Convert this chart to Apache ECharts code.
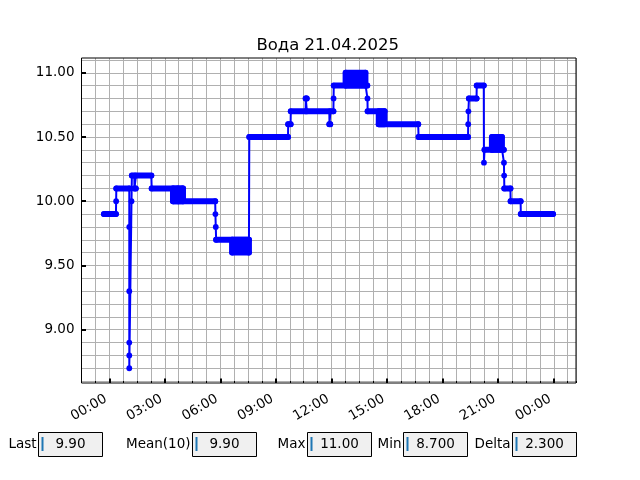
<!DOCTYPE html>
<html>
<head>
<meta charset="utf-8">
<script src="https://cdn.jsdelivr.net/npm/echarts@6/dist/echarts.min.js"></script>
<style>
  html, body { margin: 0; padding: 0; background: #fff; }
  #chart { width: 640px; height: 480px; }
</style>
</head>
<body>
<div id="chart"></div>
<script>
// данные (время в часах от 00:00)
const chartTitle = 'Вода 21.04.2025';

// полки: начало, конец, нижнее и верхнее значение (где значение "дрожит" - полоса)
const stepStart = [-0.29, 0.38, 1.22, 1.36, 1.44, 2.29, 3.44, 3.45, 5.77, 6.63, 7.56, 9.66, 9.8, 11.88, 10.6, 12.12, 12.76, 13.95, 14.55, 14.55, 16.7, 19.42, 19.84, 20.26, 20.66, 21.33, 21.67, 22.22];
const stepEnd = [0.36, 1.08, 1.35, 1.43, 2.27, 3.98, 3.98, 5.72, 7.54, 7.54, 9.65, 9.79, 12.1, 11.93, 10.66, 13.93, 13.83, 14.86, 14.86, 16.68, 19.37, 19.83, 20.22, 21.3, 21.2, 21.66, 22.21, 23.96];
const stepLow = [9.9, 10.1, 10.2, 10.1, 10.2, 10.1, 10.0, 10.0, 9.7, 9.6, 10.5, 10.6, 10.7, 10.6, 10.8, 10.9, 10.9, 10.7, 10.6, 10.6, 10.5, 10.8, 10.9, 10.4, 10.4, 10.1, 10.0, 9.9];
const stepHigh = [9.9, 10.1, 10.2, 10.1, 10.2, 10.1, 10.1, 10.0, 9.7, 9.7, 10.5, 10.6, 10.7, 10.6, 10.8, 10.9, 11.0, 10.7, 10.7, 10.6, 10.5, 10.8, 10.9, 10.4, 10.5, 10.1, 10.0, 9.9];

// точки линии по порядку
const pointHour = [-0.29, 0.36, 0.37, 0.38, 1.08, 1.08, 1.08, 1.08, 1.08, 1.08, 1.2, 1.22, 1.35, 1.36, 1.43, 1.44, 2.27, 2.29, 3.44, 3.45, 3.7, 3.72, 3.96, 3.98, 5.72, 5.73, 5.75, 5.77, 6.63, 6.64, 7.54, 7.56, 9.65, 9.66, 9.79, 9.8, 10.6, 10.61, 10.66, 10.67, 11.88, 11.89, 11.93, 11.94, 12.1, 12.11, 12.12, 12.76, 12.77, 13.83, 13.84, 13.93, 13.94, 13.95, 14.55, 14.56, 14.86, 14.87, 16.68, 16.7, 19.37, 19.38, 19.39, 19.42, 19.83, 19.84, 20.22, 20.23, 20.26, 20.66, 20.67, 21.2, 21.21, 21.3, 21.31, 21.32, 21.33, 21.66, 21.67, 22.21, 22.22, 23.96];
const pointValue = [9.9, 9.9, 10.0, 10.1, 10.1, 9.8, 9.3, 8.9, 8.8, 8.7, 10.0, 10.2, 10.2, 10.1, 10.1, 10.2, 10.2, 10.1, 10.1, 10.0, 10.1, 10.0, 10.1, 10.0, 10.0, 9.9, 9.8, 9.7, 9.7, 9.6, 9.6, 10.5, 10.5, 10.6, 10.6, 10.7, 10.7, 10.8, 10.8, 10.7, 10.7, 10.6, 10.6, 10.7, 10.7, 10.8, 10.9, 10.9, 11.0, 11.0, 10.9, 10.9, 10.8, 10.7, 10.7, 10.6, 10.7, 10.6, 10.6, 10.5, 10.5, 10.6, 10.7, 10.8, 10.8, 10.9, 10.9, 10.3, 10.4, 10.4, 10.5, 10.5, 10.4, 10.4, 10.3, 10.2, 10.1, 10.1, 10.0, 10.0, 9.9, 9.9];

const hourTicks = [0, 3, 6, 9, 12, 15, 18, 21, 24];
const hourLabels = ['00:00', '03:00', '06:00', '09:00', '12:00', '15:00', '18:00', '21:00', '00:00'];
const valueTicks = [9.0, 9.5, 10.0, 10.5, 11.0];

const statNames = ['Last', 'Mean(10)', 'Max', 'Min', 'Delta'];
const statValues = ['9.90', '9.90', '11.00', '8.700', '2.300'];

// ---- раскладка ----
const FONT = 'DejaVu Sans';
const xMin = -1.5, xMax = 25.2, yMin = 8.585, yMax = 11.115;
const G = { left: 81.5, right: 64, top: 58, bottom: 97 };
const pxH = (640 - G.left - G.right) / (xMax - xMin);
const pxV = (480 - G.top - G.bottom) / (yMax - yMin);
const boxLeft = [38.5, 192.5, 307.5, 403.5, 512.5];
const gridColor = '#b0b0b0';
const blue = '#0000ff';

const chart = echarts.init(document.getElementById('chart'));

const steps = stepStart.map((s, i) => [s, stepEnd[i], stepLow[i], stepHigh[i]]);
const points = pointHour.map((h, i) => [h, pointValue[i]]);

// поля Last / Mean / Max / Min / Delta под графиком
const graphic = [];
statNames.forEach((name, i) => {
  const x = boxLeft[i];
  graphic.push({
    type: 'text', x: x - 2, y: 444,
    style: { text: name, font: '13.5px "' + FONT + '"', fill: '#000', align: 'right', verticalAlign: 'middle' }
  });
  graphic.push({
    type: 'rect', shape: { x: x, y: 432.5, width: 64, height: 24 },
    style: { fill: '#f0f0f0', stroke: '#000', lineWidth: 1 }
  });
  graphic.push({
    type: 'rect', shape: { x: x + 3, y: 437, width: 2, height: 14 },
    style: { fill: '#1f77b4' }
  });
  graphic.push({
    type: 'text', x: x + 32, y: 444,
    style: { text: statValues[i], font: '13.5px "' + FONT + '"', fill: '#000', align: 'center', verticalAlign: 'middle' }
  });
});

const option = {
  animation: false,
  title: {
    text: chartTitle,
    left: (G.left + 640 - G.right) / 2 - 6,
    textAlign: 'center',
    top: 32,
    textStyle: { fontFamily: FONT, fontSize: 16.5, fontWeight: 'normal', color: '#000' }
  },
  grid: [
    { left: G.left, right: G.right, top: G.top, bottom: G.bottom, show: true, borderColor: '#000', borderWidth: 1, z: 5 },
    { left: G.left + (0 - xMin) * pxH, right: G.right + (xMax - 24) * pxH, top: G.top, bottom: G.bottom },
    { left: G.left, right: G.right, top: G.top + (yMax - 11.1) * pxV, bottom: G.bottom + (8.6 - yMin) * pxV },
    { left: G.left, right: G.right, top: G.top + (yMax - 11) * pxV, bottom: G.bottom + (9 - yMin) * pxV }
  ],
  xAxis: [
    {
      gridIndex: 0, type: 'value', min: xMin, max: xMax, interval: 0.75,
      axisLine: { show: false },
      axisTick: { show: true, inside: true, length: 2, lineStyle: { color: '#000', width: 1 } },
      axisLabel: { show: false },
      splitLine: { show: true, lineStyle: { color: gridColor, width: 1 } }
    },
    {
      gridIndex: 1, type: 'value', min: 0, max: 24, interval: 3,
      axisLine: { show: false },
      axisTick: { show: true, inside: true, length: 4.5, lineStyle: { color: '#000', width: 2 } },
      axisLabel: {
        rotate: 30, margin: 13, padding: [0, 4, 0, 0],
        fontFamily: FONT, fontSize: 13.5, color: '#000',
        formatter: v => hourLabels[hourTicks.indexOf(v)] || ''
      },
      splitLine: { show: false }
    },
    { gridIndex: 2, type: 'value', min: 0, max: 1, show: false },
    { gridIndex: 3, type: 'value', min: 0, max: 1, show: false }
  ],
  yAxis: [
    { gridIndex: 0, type: 'value', min: yMin, max: yMax, show: false },
    { gridIndex: 1, type: 'value', min: 0, max: 1, show: false },
    {
      gridIndex: 2, type: 'value', min: 8.6, max: 11.1, interval: 0.1,
      axisLine: { show: false }, axisTick: { show: false }, axisLabel: { show: false },
      splitLine: { show: true, lineStyle: { color: gridColor, width: 1 } }
    },
    {
      gridIndex: 3, type: 'value', min: valueTicks[0], max: valueTicks[valueTicks.length - 1], interval: 0.5,
      axisLine: { show: false },
      axisTick: { show: true, inside: true, length: 4.5, lineStyle: { color: '#000', width: 2 } },
      axisLabel: { margin: 7, fontFamily: FONT, fontSize: 13.5, color: '#000', formatter: v => v.toFixed(2) },
      splitLine: { show: false }
    }
  ],
  series: [
    {
      type: 'custom',
      xAxisIndex: 0, yAxisIndex: 0,
      data: steps,
      encode: { x: [0, 1], y: [2, 3] },
      clip: true,
      z: 3,
      renderItem: function (params, api) {
        const a = api.coord([api.value(0), api.value(3)]);
        const b = api.coord([api.value(1), api.value(2)]);
        const r = 3;
        return {
          type: 'rect',
          shape: { x: a[0] - r, y: a[1] - r, width: b[0] - a[0] + 2 * r, height: b[1] - a[1] + 2 * r, r: r },
          style: { fill: blue }
        };
      }
    },
    {
      type: 'line',
      xAxisIndex: 0, yAxisIndex: 0,
      data: points,
      z: 3,
      symbol: 'circle',
      symbolSize: 5.8,
      showSymbol: true,
      lineStyle: { color: blue, width: 2 },
      itemStyle: { color: blue }
    }
  ],
  graphic: graphic
};

chart.setOption(option);
</script>
</body>
</html>
